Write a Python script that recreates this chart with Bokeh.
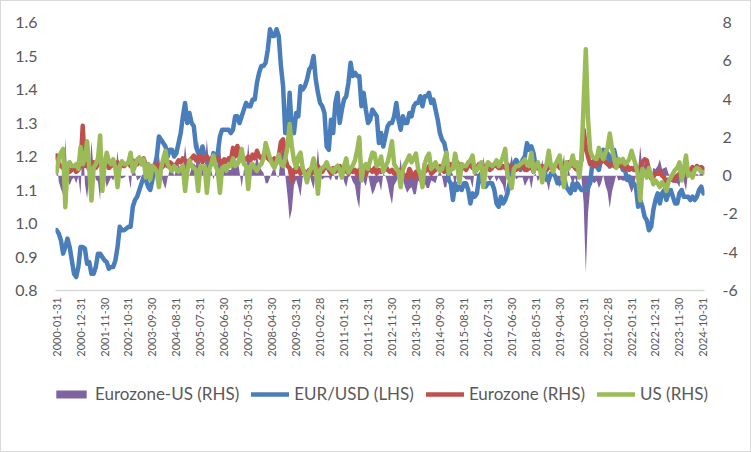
import numpy as np
import pandas as pd
from math import pi
from bokeh.plotting import figure
from bokeh.layouts import column
from bokeh.models import (Range1d, LinearAxis, FixedTicker, NumeralTickFormatter,
                          Legend, LegendItem)
from bokeh.embed import file_html
from bokeh.resources import INLINE

# ---------------- data (monthly, 2000-01 .. 2024-10) ----------------
months = pd.date_range("2000-01-31", periods=298, freq="ME").strftime("%Y-%m-%d").tolist()

tick_labels = ["2000-01-31", "2000-12-31", "2001-11-30", "2002-10-31", "2003-09-30",
               "2004-08-31", "2005-07-31", "2006-06-30", "2007-05-31", "2008-04-30",
               "2009-03-31", "2010-02-28", "2011-01-31", "2011-12-31", "2012-11-30",
               "2013-10-31", "2014-09-30", "2015-08-31", "2016-07-31", "2017-06-30",
               "2018-05-31", "2019-04-30", "2020-03-31", "2021-02-28", "2022-01-31",
               "2022-12-31", "2023-11-30", "2024-10-31"]

left_ticks = [0.8, 0.9, 1.0, 1.1, 1.2, 1.3, 1.4, 1.5, 1.6]
right_ticks = [-6, -4, -2, 0, 2, 4, 6, 8]

eurusd = [
    0.98, 0.97, 0.95, 0.91, 0.93, 0.955, 0.93, 0.89, 0.85, 0.84, 0.87, 0.93,
    0.93, 0.925, 0.88, 0.885, 0.85, 0.85, 0.87, 0.91, 0.91, 0.90, 0.89, 0.885,
    0.865, 0.87, 0.87, 0.89, 0.93, 0.99, 0.98, 0.98, 0.985, 0.99, 0.99, 1.05,
    1.07, 1.08, 1.10, 1.12, 1.14, 1.13, 1.11, 1.10, 1.13, 1.17, 1.20, 1.26,
    1.25, 1.24, 1.23, 1.20, 1.22, 1.22, 1.20, 1.21, 1.24, 1.27, 1.32, 1.36,
    1.30, 1.33, 1.30, 1.29, 1.23, 1.21, 1.21, 1.23, 1.20, 1.20, 1.18, 1.18,
    1.21, 1.19, 1.21, 1.26, 1.28, 1.28, 1.28, 1.28, 1.27, 1.28, 1.32, 1.32,
    1.30, 1.32, 1.34, 1.36, 1.35, 1.35, 1.37, 1.37, 1.42, 1.45, 1.47, 1.47,
    1.48, 1.52, 1.58, 1.56, 1.56, 1.58, 1.56, 1.47, 1.41, 1.27, 1.27, 1.39,
    1.28, 1.27, 1.33, 1.32, 1.41, 1.40, 1.41, 1.43, 1.46, 1.47, 1.50, 1.43,
    1.39, 1.36, 1.35, 1.33, 1.23, 1.22, 1.31, 1.27, 1.36, 1.39, 1.30, 1.34,
    1.37, 1.38, 1.42, 1.48, 1.44, 1.45, 1.44, 1.44, 1.35, 1.39, 1.34, 1.30,
    1.31, 1.34, 1.33, 1.32, 1.24, 1.27, 1.23, 1.26, 1.29, 1.30, 1.30, 1.32,
    1.36, 1.31, 1.28, 1.32, 1.30, 1.30, 1.33, 1.32, 1.35, 1.36, 1.36, 1.38,
    1.35, 1.38, 1.38, 1.39, 1.36, 1.37, 1.34, 1.31, 1.27, 1.25, 1.24, 1.21,
    1.13, 1.12, 1.07, 1.12, 1.10, 1.11, 1.10, 1.12, 1.12, 1.10, 1.06, 1.09,
    1.08, 1.09, 1.14, 1.15, 1.11, 1.11, 1.12, 1.12, 1.12, 1.10, 1.06, 1.05,
    1.08, 1.06, 1.07, 1.09, 1.12, 1.14, 1.18, 1.19, 1.18, 1.16, 1.19, 1.20,
    1.24, 1.22, 1.23, 1.21, 1.17, 1.17, 1.17, 1.16, 1.16, 1.13, 1.13, 1.15,
    1.15, 1.14, 1.12, 1.12, 1.12, 1.14, 1.11, 1.10, 1.09, 1.12, 1.10, 1.12,
    1.11, 1.10, 1.10, 1.10, 1.11, 1.12, 1.18, 1.19, 1.17, 1.16, 1.19, 1.22,
    1.21, 1.21, 1.17, 1.20, 1.22, 1.19, 1.19, 1.18, 1.16, 1.16, 1.13, 1.14,
    1.12, 1.12, 1.11, 1.05, 1.07, 1.05, 1.02, 1.01, 0.98, 0.99, 1.04, 1.07,
    1.09, 1.06, 1.09, 1.10, 1.07, 1.09, 1.10, 1.08, 1.06, 1.06, 1.09, 1.10,
    1.08, 1.08, 1.08, 1.07, 1.08, 1.07, 1.08, 1.10, 1.11, 1.09,
]

eurozone = [
    1.05, 0.6, 0.5, 0.4, 0.3, 0.4, 0.2, 0.3, 0.4, 0.2, 0.3, 0.5,
    2.6, 0.5, 0.6, 0.3, 0.5, 0.7, 0.4, 0.6, 0.8, 0.7, 0.5, 0.6,
    0.4, 0.5, 0.6, 0.5, 0.7, 0.4, 0.6, 0.5, 0.6, 0.7, 0.5, 0.8,
    0.7, 0.6, 0.8, 0.6, 0.9, 0.5, 0.6, 0.4, 0.5, 0.4, 0.6, 0.5,
    0.4, 0.5, 0.6, 0.5, 0.7, 0.6, 0.5, 0.6, 0.8, 0.7, 0.9, 0.8,
    0.7, 0.8, 0.9, 1.05, 0.8, 1.0, 1.05, 0.7, 0.9, 1.0, 0.8, 0.9,
    0.85, 0.7, 0.9, 0.8, 0.6, 0.85, 0.7, 0.9, 0.8, 1.45, 1.0, 1.55,
    1.0, 0.8, 0.9, 0.85, 1.0, 0.8, 1.1, 0.9, 1.3, 1.0, 0.9, 1.05,
    1.3, 0.9, 0.8, 0.8, 0.9, 0.7, 1.0, 1.75, 1.9, 0.9, 0.5, 0.4,
    -0.25, 0.3, 0.2, 0.4, 0.1, 0.3, 0.2, 0.0, 0.3, 0.1, 0.2, 0.4,
    0.5, 0.3, 0.2, 0.4, 0.6, 0.3, 0.1, 0.4, 0.2, 0.3, 0.5, 0.17,
    0.2, 0.3, 0.1, 0.4, 0.2, 0.3, 0.05, 0.3, -0.1, 0.2, 0.05, 0.4,
    0.3, 0.2, 0.4, 0.1, 0.3, 0.2, 0.3, 0.5, 0.3, 0.2, 0.3, 0.1,
    0.1, 0.2, 0.3, 0.1, 0.0, -0.1, 0.35, 0.1, -0.1, 0.2, 0.1, -0.2,
    0.1, 0.2, 0.3, 0.5, 0.1, 0.2, 0.3, 0.4, 0.5, 0.3, 0.2, 0.6,
    0.5, 0.6, 0.4, 0.5, 0.7, 0.2, 0.6, 0.4, 0.3, 0.5, 0.6, 0.4,
    0.5, 0.4, 0.6, 0.5, 0.4, 0.5, 0.6, 0.3, 0.4, 0.6, 0.5, 0.4,
    0.4, 0.5, 0.4, 0.6, 0.3, 0.4, 0.5, 0.3, 0.4, 0.5, 0.6, 0.3,
    0.3, 0.4, 0.5, 0.2, 0.6, 0.4, 0.3, 0.5, 0.4, 0.3, 0.5, 0.4,
    0.4, 0.5, 0.6, 0.4, 0.6, 0.5, 0.4, 0.7, 0.5, 0.6, 0.4, 0.3,
    0.6, 0.8, 2.4, 1.5, 1.0, 0.6, 0.7, 0.5, 0.6, 0.8, 0.7, 0.9,
    0.7, 0.6, 0.5, 0.6, 0.5, 0.45, 0.6, 0.5, 0.6, 0.35, 0.5, 0.3,
    0.4, 0.3, 0.5, 0.3, 0.26, 0.7, 0.85, 0.8, 0.26, -0.15, -0.05, 0.1,
    0.1, 0.26, 0.0, -0.1, -0.35, -0.2, -0.15, -0.25, -0.1, 0.0, 0.1, 0.2,
    0.0, 0.26, 0.2, 0.3, 0.45, 0.3, 0.5, 0.35, 0.45, 0.35,
]

us = [
    0.2, 0.9, 1.2, 1.4, -1.65, 0.6, 0.7, 0.5, 0.5, 0.6, 0.35, 1.5,
    0.6, 0.9, 1.8, 0.4, -1.3, 0.4, 0.6, 0.9, 2.1, -0.8, 0.5, 1.2,
    0.75, 0.6, 0.85, 0.4, -0.6, 0.5, 0.75, 0.6, 0.6, 0.7, 1.2, 0.2,
    0.5, 0.85, 0.95, 0.6, 0.85, -0.1, 0.6, -0.2, 0.5, 0.4, 0.2, -0.6,
    0.4, 0.9, 1.3, 0.6, 0.4, 0.25, 0.5, 0.3, 0.2, 0.4, 0.5, -0.8,
    0.2, 0.8, 0.5, 0.4, 0.3, -0.8, 0.5, 0.4, 0.5, -0.9, 0.3, 0.6,
    1.05, 0.5, 0.25, -0.9, 0.4, 0.5, 0.25, 0.6, 0.5, 0.9, 0.5, 0.6,
    0.8, 1.4, 0.6, 0.5, -0.7, 0.5, 0.6, 0.4, 0.25, 0.5, 0.6, 0.9,
    1.7, 1.3, 0.9, 0.6, 0.4, 0.7, 1.1, 0.6, 0.5, 0.87, 1.5, 2.7,
    1.55, 0.8, 0.4, 1.0, 1.2, 0.4, 0.1, -0.35, 0.2, 0.4, 0.9, 0.3,
    -0.95, 0.3, 0.4, 0.5, 0.7, 0.4, 0.35, 0.17, 0.4, 0.52, 0.3, -0.1,
    0.5, 0.9, 0.17, 0.4, 0.52, 0.8, 1.3, 2.0, -0.25, 0.5, 0.6, 0.35,
    0.8, 1.2, 1.15, 0.5, 0.6, 1.0, 0.2, 0.5, 0.7, 1.2, 1.8, 0.6,
    0.4, 0.2, -0.6, 0.3, 0.6, 0.8, 1.05, 0.7, 0.9, 1.15, 0.35, 0.1,
    -0.6, 0.6, 0.95, 1.15, 0.35, 0.5, 0.7, 0.4, 0.25, 0.35, 0.8, 1.2,
    0.1, 0.3, 0.35, 1.15, 0.5, -0.35, 0.6, 0.5, 0.5, 0.7, 0.8, 1.05,
    0.17, 0.3, 0.5, 0.7, -0.6, 0.3, 0.7, 0.6, 0.5, 0.6, 0.8, 0.5,
    0.7, 1.0, 1.4, 0.0, -0.2, -0.65, 0.35, 0.5, 0.5, 0.6, 0.7, 0.85,
    0.6, 0.5, 1.2, 0.2, 0.5, 0.7, 0.3, -0.35, 0.3, 0.6, 1.3, 0.5,
    0.2, 0.6, 0.8, 1.05, 0.3, -0.6, 0.7, 0.35, 0.6, 1.05, 0.5, 0.7,
    -0.1, 0.9, 3.8, 6.6, 3.0, 1.3, 1.0, 0.9, 0.87, 1.45, 1.1, 0.87,
    1.2, 1.45, 2.2, 1.45, 0.9, 0.4, 0.87, 0.7, 0.87, 0.6, 0.7, 0.87,
    1.3, 0.9, 0.52, 0.0, -1.3, 0.35, 0.2, -0.1, 0.4, 0.0, -0.45, -0.25,
    -0.4, -0.6, -0.35, -0.5, -0.8, -0.3, -0.1, 0.1, 0.3, 0.4, 0.7, -0.25,
    0.3, 1.05, 0.0, 0.1, -0.1, 0.3, 0.4, 0.35, 0.2, 0.17,
]

# Eurozone-US spread (RHS) is by definition the difference of the two series
spread = list(np.round(np.array(eurozone) - np.array(us), 2))

x = list(range(len(months)))
tick_pos = [months.index(t) for t in tick_labels]

series_names = ["Eurozone-US (RHS)", "EUR/USD (LHS)", "Eurozone (RHS)", "US (RHS)"]

# ---------------- styling ----------------
FONT = "Lato"
TXT = "#595959"
C_AREA = "#8064A2"
C_BLUE = "#4A7EBB"
C_RED = "#C0504D"
C_GREEN = "#9BBB59"
LW = 4.5

W = 749  # inner width (1px chart border on each side)

p = figure(width=W, height=369, output_backend="svg", toolbar_location=None,
           x_range=Range1d(-0.5, len(months) - 0.5), y_range=Range1d(0.8, 1.6),
           min_border_left=54, min_border_right=46, min_border_top=21,
           min_border_bottom=80, outline_line_color=None,
           background_fill_color="white", border_fill_color="white")
p.grid.visible = False
p.extra_y_ranges = {"rhs": Range1d(-6, 8)}

p.varea(x=x, y1=0, y2=spread, y_range_name="rhs", fill_color=C_AREA)
p.line(x, eurusd, line_color=C_BLUE, line_width=LW, line_join="round", line_cap="round")
p.line(x, eurozone, line_color=C_RED, line_width=LW, y_range_name="rhs",
       line_join="round", line_cap="round")
p.line(x, us, line_color=C_GREEN, line_width=LW, y_range_name="rhs",
       line_join="round", line_cap="round")

# x axis
xa = p.xaxis[0]
xa.ticker = FixedTicker(ticks=tick_pos)
xa.major_label_overrides = {pos: lab for pos, lab in zip(tick_pos, tick_labels)}
xa.major_label_orientation = pi / 2
xa.axis_line_color = "#D9D9D9"
xa.axis_line_width = 1.5
xa.major_tick_line_color = None
xa.minor_tick_line_color = None
xa.major_tick_out = 0
xa.major_tick_in = 0
xa.major_label_standoff = 7
xa.major_label_text_font = FONT
xa.major_label_text_font_size = "11px"
xa.major_label_text_color = TXT

# left axis
ya = p.yaxis[0]
ya.ticker = FixedTicker(ticks=left_ticks)
ya.formatter = NumeralTickFormatter(format="0.0")
ya.axis_line_color = None
ya.major_tick_line_color = None
ya.minor_tick_line_color = None
ya.major_tick_out = 0
ya.major_tick_in = 0
ya.major_label_standoff = 18
ya.major_label_text_font = FONT
ya.major_label_text_font_size = "16px"
ya.major_label_text_color = TXT

# right axis
ra = LinearAxis(y_range_name="rhs", ticker=FixedTicker(ticks=right_ticks),
                formatter=NumeralTickFormatter(format="0"))
ra.axis_line_color = None
ra.major_tick_line_color = None
ra.minor_tick_line_color = None
ra.major_tick_out = 0
ra.major_tick_in = 0
ra.major_label_standoff = 18
ra.major_label_text_font = FONT
ra.major_label_text_font_size = "16px"
ra.major_label_text_color = TXT
p.add_layout(ra, "right")

# ---------------- legend strip (own small plot below the chart) ----------------
pl = figure(width=W, height=81, output_backend="svg", toolbar_location=None,
            x_range=Range1d(0, 1), y_range=Range1d(0, 1),
            min_border_left=0, min_border_right=0, min_border_top=0,
            min_border_bottom=0, outline_line_color=None,
            x_axis_type=None, y_axis_type=None,
            background_fill_color="white", border_fill_color="white")
pl.frame_align = False
pl.grid.visible = False
# legend proxies: one off-range point each, so the legend swatches get their styles
g_area = pl.varea(x=[-5], y1=[-5], y2=[-5], fill_color=C_AREA)
g_blue = pl.line([-5], [-5], line_color=C_BLUE, line_width=LW, line_cap="round")
g_red = pl.line([-5], [-5], line_color=C_RED, line_width=LW, line_cap="round")
g_green = pl.line([-5], [-5], line_color=C_GREEN, line_width=LW, line_cap="round")

legend = Legend(items=[LegendItem(label=series_names[0], renderers=[g_area]),
                       LegendItem(label=series_names[1], renderers=[g_blue]),
                       LegendItem(label=series_names[2], renderers=[g_red]),
                       LegendItem(label=series_names[3], renderers=[g_green])],
                orientation="horizontal", location=(51, 47),
                label_text_font=FONT, label_text_font_size="17px",
                label_text_color=TXT, glyph_width=38, glyph_height=10,
                label_height=20, label_standoff=5, spacing=12, padding=0,
                margin=0, border_line_color=None, background_fill_alpha=0)
pl.add_layout(legend)

layout = column(p, pl, spacing=0,
                styles={"border": "1px solid #D9D9D9"})

open("out.html", "w").write(file_html(layout, INLINE))
